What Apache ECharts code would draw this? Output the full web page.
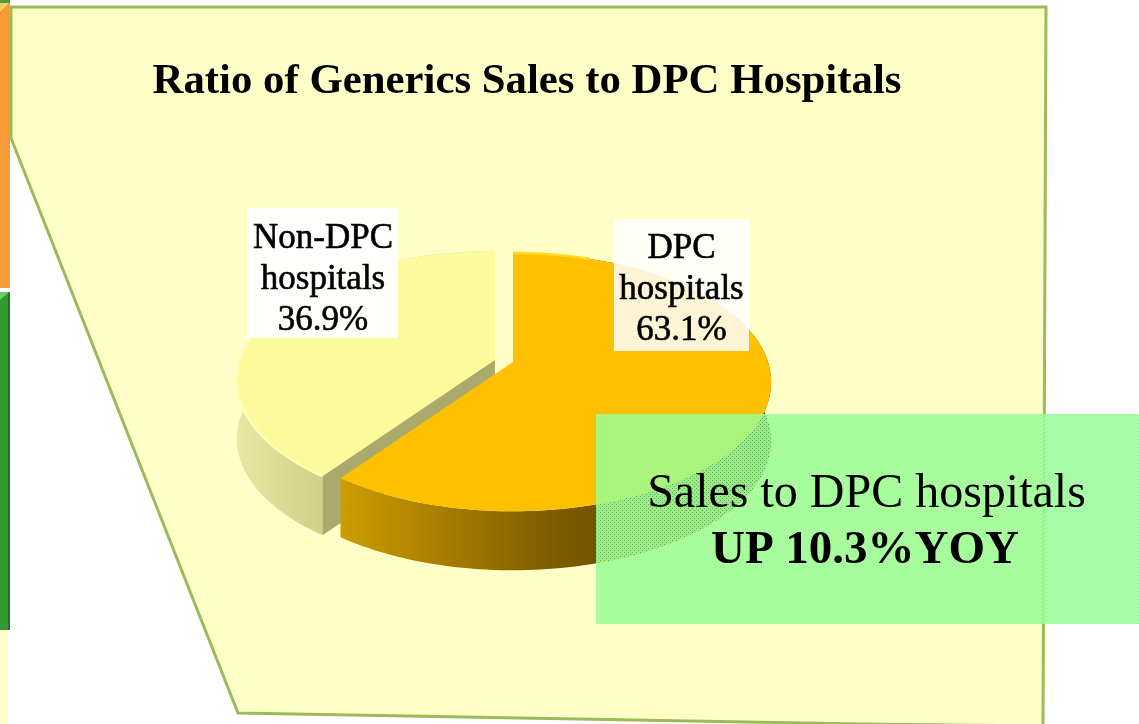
<!DOCTYPE html>
<html>
<head>
<meta charset="utf-8">
<style>html,body{margin:0;padding:0;background:#fff}#main{width:1139px;height:724px}</style>
<script src="https://cdn.jsdelivr.net/npm/echarts@6/dist/echarts.min.js"></script>
</head>
<body>
<div id="main"></div>
<script>
const categories = ['Non-DPC\nhospitals', 'DPC\nhospitals'];
const shares = [36.9, 63.1];
const titleText = 'Ratio of Generics Sales to DPC Hospitals';
const noteLine = 'Sales to DPC hospitals';
const noteBold = 'UP 10.3%YOY';

// pie look, per slice
const apex = [[495, 360], [513, 362]];
const labelRect = [[247, 208, 151, 130], [614, 219, 135, 132]];
const labelText = [[323, 218], [681.5, 228]];
const labelBg = ['rgba(255,255,255,0.96)', 'rgba(255,255,255,0.84)'];
const topColor = ['#FBFB9E', '#FFC000'];
const rimColor = ['#FDFDB4', '#FFDA20'];
const sideStops = [
  [[0, '#E8E8A4'], [1, '#CDCD84']],
  [[0, '#CC9C00'], [0.5, '#7C5A00'], [1, '#4E3800']]
];
const sideSpan = [[237, 330], [343, 775]];

const Rx = 255, Ry = 126, K = 0.156, DEPTH = 59, WARP = 0.68;

// the pie is tilted, so it is projected by hand: ECharts' own pie can't flatten
function warp(a) {
  let t = Math.atan2(WARP * Math.sin(a), Math.cos(a));
  while (t < a - Math.PI) t += 2 * Math.PI;
  while (t > a + Math.PI) t -= 2 * Math.PI;
  return t;
}
function project(a, o, dy) {
  const t = warp(a);
  const u = Math.sin(t), v = -Math.cos(t), w = 1 - K * v;
  return [o[0] + Rx * u / w, o[1] + Ry * v / w + dy];
}
function arc(a0, a1, o, dy) {
  const pts = [];
  const n = 120;
  for (let i = 0; i <= n; i++) pts.push(project(a0 + (a1 - a0) * i / n, o, dy));
  return pts;
}

// small dither tiles, the source image has this screen-door look
function tile(base, dot, lineOnly) {
  const c = document.createElement('canvas');
  c.width = c.height = 4;
  const g = c.getContext('2d');
  g.fillStyle = base;
  g.fillRect(0, 0, 4, 4);
  g.fillStyle = dot;
  if (lineOnly) {
    g.fillRect(0, 0, 4, 1);
  } else {
    g.clearRect(0, 0, 1, 1);
    g.clearRect(2, 2, 1, 1);
    g.fillRect(0, 0, 1, 1);
    g.fillRect(2, 2, 1, 1);
  }
  return c;
}

function renderSlice(params, api) {
  const i = params.dataIndex;
  let before = 0;
  for (let j = 0; j < i; j++) before += shares[j];
  const start = (before - shares[0]) * 3.6 * Math.PI / 180;
  const end = start + api.value(0) * 3.6 * Math.PI / 180;
  const o = apex[i];
  const top = arc(start, end, o, 0);
  const bottom = arc(start, end, o, DEPTH).reverse();
  const corner = top[0];
  const children = [];
  children.push({
    type: 'polygon',
    shape: { points: top.concat(bottom) },
    style: { fill: new echarts.graphic.LinearGradient(sideSpan[i][0], 0, sideSpan[i][1], 0, sideStops[i].map(s => ({ offset: s[0], color: s[1] })), true) }
  });
  if (i === 0) {
    // cut face of the pale slice, seen through the gap
    children.push({
      type: 'polygon',
      shape: { points: [top[top.length - 1], [o[0], o[1] + DEPTH], [corner[0], corner[1] + DEPTH], corner] },
      style: { fill: '#AAAA6C' }
    });
  }
  children.push({
    type: 'polygon',
    shape: { points: [o].concat(top) },
    style: { fill: topColor[i] }
  });
  // bright lip along the front of the rim
  children.push({
    type: 'polyline',
    shape: { points: i === 0 ? top.slice(0, 70) : top.slice(0, 16) },
    style: { stroke: rimColor[i], lineWidth: 2.5, fill: null }
  });
  return { type: 'group', children: children };
}

function renderLabel(params, api) {
  const i = params.dataIndex;
  const r = labelRect[i];
  return {
    type: 'group',
    children: [
      { type: 'rect', shape: { x: r[0], y: r[1], width: r[2], height: r[3] }, style: { fill: labelBg[i] } },
      {
        type: 'text',
        style: {
          x: labelText[i][0], y: labelText[i][1],
          text: categories[i] + '\n' + api.value(0).toFixed(1) + '%',
          font: '35px "Liberation Serif"',
          lineHeight: 41,
          fill: '#000',
          stroke: '#000',
          lineWidth: 0.6,
          align: 'center',
          verticalAlign: 'top'
        }
      }
    ]
  };
}

const chart = echarts.init(document.getElementById('main'), null, { renderer: 'canvas' });
chart.setOption({
  backgroundColor: '#fff',
  animation: false,
  title: {
    text: titleText,
    left: 522,
    top: 55,
    textAlign: 'center',
    textStyle: { fontFamily: 'Liberation Serif', fontWeight: 'bold', fontSize: 42.8, color: '#000' }
  },
  graphic: [
    // side strips left over from the slide
    { type: 'rect', z: 0, shape: { x: 0, y: 0, width: 10, height: 288 }, style: { fill: '#F79A37' } },
    { type: 'rect', z: 0, shape: { x: 0, y: 0, width: 10, height: 3 }, style: { fill: '#4F9A3A' } },
    { type: 'polygon', z: 0, shape: { points: [[0, 3], [9, 3], [0, 12]] }, style: { fill: '#F5D060' } },
    { type: 'rect', z: 0, shape: { x: 0, y: 292, width: 10, height: 338 }, style: { fill: '#339933' } },
    { type: 'rect', z: 0, shape: { x: 8, y: 292, width: 2, height: 338 }, style: { fill: '#256F25' } },
    { type: 'polygon', z: 0, shape: { points: [[0, 292], [9, 292], [0, 300]] }, style: { fill: '#66CC66' } },
    { type: 'rect', z: 0, shape: { x: 0, y: 630, width: 8, height: 94 }, style: { fill: '#FFFFCC' } },
    // the pale panel
    {
      type: 'polygon', z: 0,
      shape: { points: [[11, 7], [1046, 7], [1043, 726], [860, 724], [238, 713], [11, 138]] },
      style: { fill: { image: tile('#FFFFC4', '#FFFFD6', true), repeat: 'repeat' }, stroke: '#9BBB59', lineWidth: 3 }
    },
    // green note box
    {
      type: 'rect', z: 10,
      shape: { x: 596, y: 414, width: 543, height: 210 },
      style: { fill: { image: tile('rgba(150,255,150,0.92)', 'rgba(150,255,150,0.5)', false), repeat: 'repeat' } }
    },
    {
      type: 'text', z: 11,
      style: { x: 866.5, y: 494, text: noteLine, font: '48px "Liberation Serif"', fill: '#000', align: 'center', verticalAlign: 'middle' }
    },
    {
      type: 'text', z: 11,
      style: { x: 865, y: 551, text: noteBold, font: 'bold 47px "Liberation Serif"', fill: '#000', align: 'center', verticalAlign: 'middle' }
    }
  ],
  series: [
    {
      type: 'custom',
      coordinateSystem: 'none',
      z: 2,
      silent: true,
      renderItem: renderSlice,
      data: shares.map(v => [v])
    },
    {
      type: 'custom',
      coordinateSystem: 'none',
      z: 3,
      silent: true,
      renderItem: renderLabel,
      data: shares.map(v => [v])
    }
  ]
});
</script>
</body>
</html>
